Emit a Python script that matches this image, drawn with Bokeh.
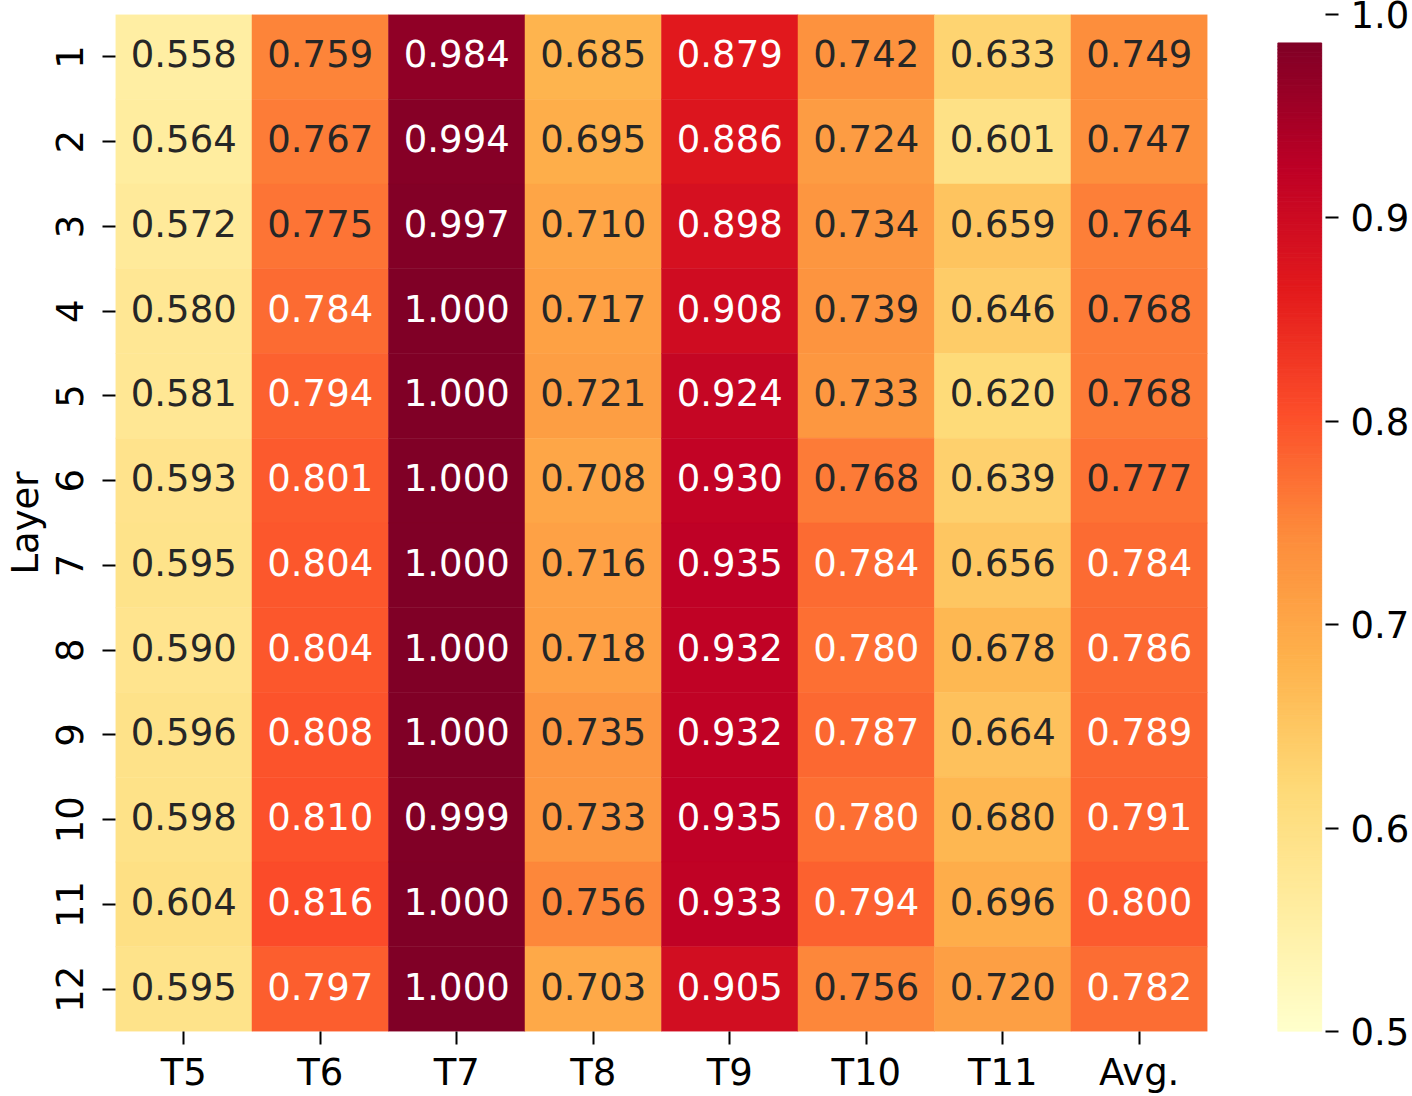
from bokeh.plotting import figure
from bokeh.layouts import row
from bokeh.models import ColumnDataSource, Range1d, FixedTicker, PrintfTickFormatter
from bokeh.core.properties import value
from bokeh.embed import file_html
from bokeh.resources import INLINE

# ---------------- data ----------------
columns = ["T5", "T6", "T7", "T8", "T9", "T10", "T11", "Avg."]
layers = [str(i) for i in range(1, 13)]

T5 = [0.558, 0.564, 0.572, 0.580, 0.581, 0.593, 0.595, 0.590, 0.596, 0.598, 0.604, 0.595]
T6 = [0.759, 0.767, 0.775, 0.784, 0.794, 0.801, 0.804, 0.804, 0.808, 0.810, 0.816, 0.797]
T7 = [0.984, 0.994, 0.997, 1.000, 1.000, 1.000, 1.000, 1.000, 1.000, 0.999, 1.000, 1.000]
T8 = [0.685, 0.695, 0.710, 0.717, 0.721, 0.708, 0.716, 0.718, 0.735, 0.733, 0.756, 0.703]
T9 = [0.879, 0.886, 0.898, 0.908, 0.924, 0.930, 0.935, 0.932, 0.932, 0.935, 0.933, 0.905]
T10 = [0.742, 0.724, 0.734, 0.739, 0.733, 0.768, 0.784, 0.780, 0.787, 0.780, 0.794, 0.756]
T11 = [0.633, 0.601, 0.659, 0.646, 0.620, 0.639, 0.656, 0.678, 0.664, 0.680, 0.696, 0.720]
AVG = [0.749, 0.747, 0.764, 0.768, 0.768, 0.777, 0.784, 0.786, 0.789, 0.791, 0.800, 0.782]
series = [T5, T6, T7, T8, T9, T10, T11, AVG]

vmin, vmax = 0.5, 1.0
cbar_ticks = [0.5, 0.6, 0.7, 0.8, 0.9, 1.0]

# ---------------- colormap (YlOrRd) ----------------
YLORRD = ["#ffffcc", "#ffeda0", "#fed976", "#feb24c", "#fd8d3c",
          "#fc4e2a", "#e31a1c", "#bd0026", "#800026"]
_rgb = [tuple(int(h[i:i + 2], 16) for i in (1, 3, 5)) for h in YLORRD]


def cmap(t):
    t = max(0.0, min(1.0, t))
    pos = t * (len(_rgb) - 1)
    i = min(int(pos), len(_rgb) - 2)
    f = pos - i
    a, b = _rgb[i], _rgb[i + 1]
    c = [round(a[k] + (b[k] - a[k]) * f) for k in range(3)]
    return "#%02x%02x%02x" % tuple(c)


FONT = "DejaVu Sans"
FS = "37px"

xs, ys, vals, fills, labels, tcolors = [], [], [], [], [], []
for col, vlist in zip(columns, series):
    for lay, v in zip(layers, vlist):
        xs.append(col)
        ys.append(lay)
        vals.append(v)
        fills.append(cmap((v - vmin) / (vmax - vmin)))
        labels.append("%.3f" % v)
        tcolors.append("#ffffff" if v >= 0.78 else "#262626")

src = ColumnDataSource(dict(x=xs, y=ys, v=vals, fill=fills, label=labels, tc=tcolors))

H = 1096
p = figure(x_range=columns, y_range=list(reversed(layers)),
           width=1248, height=H, output_backend="svg", toolbar_location=None,
           min_border_left=115, min_border_right=41, min_border_top=14, min_border_bottom=64)
p.rect(x="x", y="y", width=1, height=1, source=src, fill_color="fill",
       line_color="fill", line_width=0.5)
p.text(x="x", y="y", text="label", source=src, text_color="tc",
       text_align="center", text_baseline="middle", y_offset=-3,
       text_font=value(FONT), text_font_size=FS)

p.grid.visible = False
p.outline_line_color = None
for ax in (p.xaxis[0], p.yaxis[0]):
    ax.axis_line_color = None
    ax.major_tick_in = 0
    ax.major_tick_out = 13
    ax.major_tick_line_width = 2
    ax.major_tick_line_color = "#000000"
    ax.minor_tick_line_color = None
    ax.major_label_text_font = FONT
    ax.major_label_text_font_size = FS
    ax.major_label_text_color = "#000000"
p.xaxis.major_label_standoff = 6
p.yaxis.major_label_standoff = 20
p.yaxis.major_label_orientation = "vertical"
p.yaxis.axis_label = "Layer"
p.yaxis.axis_label_text_font = FONT
p.yaxis.axis_label_text_font_size = FS
p.yaxis.axis_label_text_font_style = "normal"
p.yaxis.axis_label_text_color = "#000000"
p.yaxis.axis_label_standoff = 6

# ---------------- colour bar ----------------
bar_top = 0.986
n = 300
step = (bar_top - vmin) / n
bottoms = [vmin + i * step for i in range(n)]
tops = [b + step for b in bottoms]
bcols = [cmap((b + step / 2 - vmin) / (bar_top - vmin)) for b in bottoms]

c = figure(x_range=Range1d(0, 1), y_range=Range1d(vmin, vmax),
           width=164, height=H, output_backend="svg", toolbar_location=None,
           min_border_left=29, min_border_right=85, min_border_top=14, min_border_bottom=64,
           y_axis_location="right")
c.quad(left=0, right=0.92, bottom=bottoms, top=tops, fill_color=bcols,
       line_color=bcols, line_width=1)
c.grid.visible = False
c.outline_line_color = None
c.xaxis.visible = False
cy = c.yaxis[0]
cy.ticker = FixedTicker(ticks=cbar_ticks)
cy.formatter = PrintfTickFormatter(format="%.1f")
cy.axis_line_color = None
cy.major_tick_in = 0
cy.major_tick_out = 13
cy.major_tick_line_width = 2
cy.major_tick_line_color = "#000000"
cy.minor_tick_line_color = None
cy.major_label_text_font = FONT
cy.major_label_text_font_size = FS
cy.major_label_text_color = "#000000"
cy.major_label_standoff = 12

layout = row(p, c)
open("out.html", "w").write(file_html(layout, INLINE))
